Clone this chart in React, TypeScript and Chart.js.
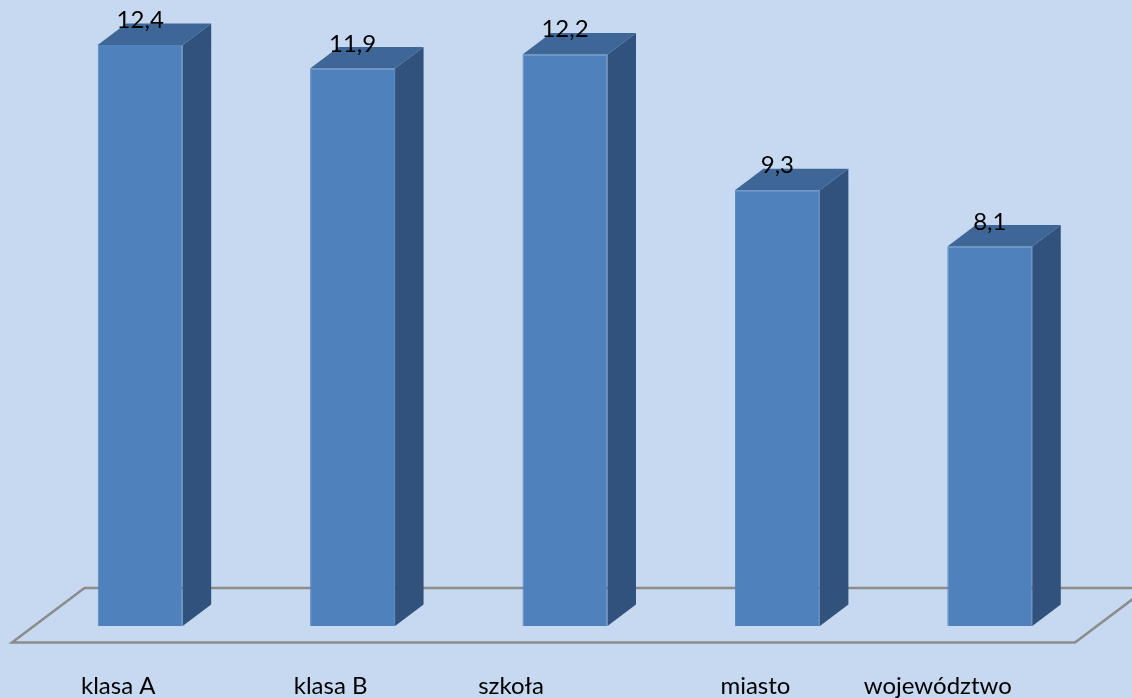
import React, { useEffect, useRef } from "react";
import { Chart, registerables } from "chart.js";

Chart.register(...registerables);

const categories = ["klasa A", "klasa B", "szkoła", "miasto", "województwo"];
const values = [12.4, 11.9, 12.2, 9.3, 8.1];
const valueLabels = ["12,4", "11,9", "12,2", "9,3", "8,1"];
const labelShifts = [-22, -22, -54, -22, -52];

const PAGE_BG = "#C6D9F1";
const FACE = "#4F81BD";
const SIDE = "#31527C";
const TOP = "#3E6696";
const FLOOR = "#8C8C8C";
const DX = 28.5;
const DY = 21.5;
const FONT = "Lato, Carlito, sans-serif";

const shifted = new WeakSet<object>();

const scene = {
  id: "scene",
  beforeDraw(chart: any) {
    const sx = chart.scales.x;
    const items = sx.getLabelItems(chart.chartArea);
    items.forEach((item: any, i: number) => {
      if (!shifted.has(item)) {
        item.options.translation[0] += labelShifts[i] ?? 0;
        shifted.add(item);
      }
    });
  },
  beforeDatasetsDraw(chart: any) {
    const { ctx, chartArea, scales } = chart;
    const y0 = scales.y.getPixelForValue(0);
    const front = y0 + 16.5;
    const back = y0 - 38;
    const l = chartArea.left - 22;
    const r = chartArea.right - 21;
    ctx.save();
    ctx.strokeStyle = FLOOR;
    ctx.lineWidth = 2.5;
    ctx.lineJoin = "miter";
    ctx.beginPath();
    ctx.moveTo(1132 + 10, back);
    ctx.lineTo(l + 72.5, back);
    ctx.lineTo(l, front);
    ctx.lineTo(r, front);
    ctx.lineTo(r + 72.5, back);
    ctx.stroke();
    ctx.restore();
  },
  afterDatasetsDraw(chart: any) {
    const { ctx } = chart;
    const bars = chart.getDatasetMeta(0).data;
    ctx.save();
    bars.forEach((bar: any, i: number) => {
      const right = bar.x + bar.width / 2;
      const left = bar.x - bar.width / 2;
      const top = bar.y;
      const bottom = bar.base;
      ctx.fillStyle = SIDE;
      ctx.beginPath();
      ctx.moveTo(right, top);
      ctx.lineTo(right + DX, top - DY);
      ctx.lineTo(right + DX, bottom - DY);
      ctx.lineTo(right, bottom);
      ctx.closePath();
      ctx.fill();
      ctx.fillStyle = TOP;
      ctx.beginPath();
      ctx.moveTo(left, top);
      ctx.lineTo(left + DX, top - DY);
      ctx.lineTo(right + DX, top - DY);
      ctx.lineTo(right, top);
      ctx.closePath();
      ctx.fill();
      ctx.fillStyle = "#000";
      ctx.font = `24px ${FONT}`;
      ctx.textAlign = "center";
      ctx.textBaseline = "alphabetic";
      ctx.fillText(valueLabels[i], bar.x, top - 17);
    });
    ctx.restore();
  },
};

export default function App() {
  const ref = useRef<HTMLCanvasElement>(null);
  useEffect(() => {
    document.body.style.margin = "0";
    document.body.style.background = PAGE_BG;
    const chart = new Chart(ref.current!, {
      type: "bar",
      data: {
        labels: categories,
        datasets: [
          {
            data: values,
            backgroundColor: FACE,
            borderColor: "#5484BF",
            borderWidth: 1,
            barPercentage: 0.4,
            categoryPercentage: 1,
          },
        ],
      },
      options: {
        responsive: false,
        animation: false,
        layout: { padding: { left: 34, right: 36, top: 17, bottom: 0 } },
        plugins: { legend: { display: false }, tooltip: { enabled: false } },
        scales: {
          x: {
            grid: { display: false },
            border: { display: false },
            ticks: {
              color: "#000",
              font: { family: FONT, size: 24 },
              padding: 38,
              maxRotation: 0,
              autoSkip: false,
            },
            afterFit: (s: any) => {
              s.height = 72;
            },
          },
          y: { display: false, min: 0, max: 13 },
        },
      },
      plugins: [scene],
    });
    return () => chart.destroy();
  }, []);
  return (
    <canvas
      ref={ref}
      width={1132}
      height={698}
      style={{ position: "fixed", left: 0, top: 0, width: 1132, height: 698, background: PAGE_BG }}
    />
  );
}
